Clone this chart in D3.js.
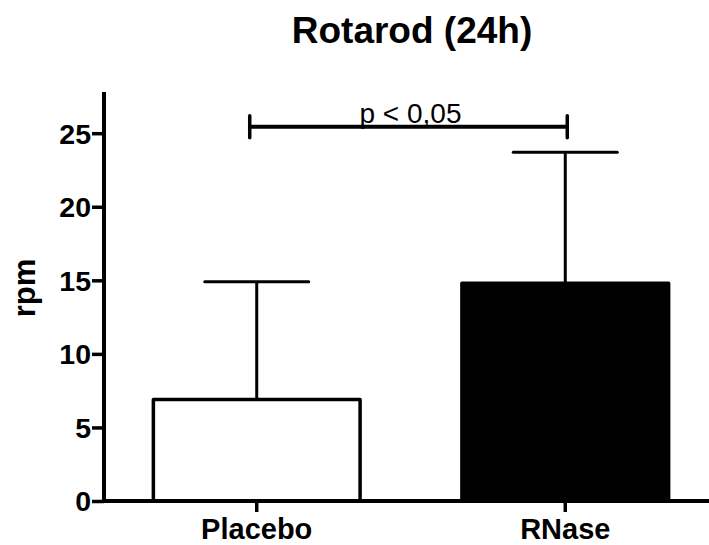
<!DOCTYPE html>
<html>
<head>
<meta charset="utf-8">
<script src="https://cdn.jsdelivr.net/npm/d3@7"></script>
<style>
  html, body { margin: 0; padding: 0; background: #fff; }
  svg { display: block; }
  text { font-family: "Liberation Sans", Arial, sans-serif; fill: #000; }
</style>
</head>
<body>
<svg id="chart" width="709" height="545"></svg>
<script>
const categories = ["Placebo", "RNase"];
const means = [6.9, 14.8];
const errors = [8.0, 8.9];
const fills = ["#ffffff", "#000000"];
const yTicks = [0, 5, 10, 15, 20, 25];
const title = "Rotarod (24h)";
const yLabel = "rpm";
const sigLabel = "p < 0,05";
const sigValue = 25.43;

const svg = d3.select("#chart");
const W = 709, H = 545;

const x = d3.scaleBand().domain(categories).range([104, 718]).paddingInner(0.33).paddingOuter(0.16);
const y = d3.scaleLinear().domain([0, 27.8]).range([501, 92]);

// bars
svg.selectAll("rect.bar").data(categories).enter().append("rect")
  .attr("class", "bar")
  .attr("x", d => x(d))
  .attr("width", x.bandwidth())
  .attr("y", (d, i) => y(means[i]))
  .attr("height", (d, i) => y(0) - y(means[i]))
  .attr("fill", (d, i) => fills[i])
  .attr("stroke", "#000")
  .attr("stroke-width", 3.5)
  .attr("stroke-linejoin", "round");

// error bars (upper only)
const capHalf = 52;
categories.forEach((c, i) => {
  const cx = x(c) + x.bandwidth() / 2;
  svg.append("line")
    .attr("x1", cx).attr("x2", cx)
    .attr("y1", y(means[i])).attr("y2", y(means[i] + errors[i]))
    .attr("stroke", "#000").attr("stroke-width", 3);
  svg.append("line")
    .attr("x1", cx - capHalf).attr("x2", cx + capHalf)
    .attr("y1", y(means[i] + errors[i])).attr("y2", y(means[i] + errors[i]))
    .attr("stroke", "#000").attr("stroke-width", 3).attr("stroke-linecap", "round");
});

// y axis
const yAxis = d3.axisLeft(y).tickValues(yTicks).tickSize(12).tickPadding(1).tickFormat(d3.format("d"));
const gy = svg.append("g").attr("transform", "translate(104,0)").call(yAxis);
gy.select(".domain").remove();
gy.selectAll(".tick line").attr("stroke", "#000").attr("stroke-width", 3.5);
gy.selectAll(".tick text").attr("font-size", 28.5).attr("font-weight", "bold").attr("fill", "#000").attr("dy", "0.35em");
svg.append("line").attr("x1", 104).attr("x2", 104).attr("y1", y.range()[1]).attr("y2", y(0) + 2)
  .attr("stroke", "#000").attr("stroke-width", 4);

// x axis
const xAxis = d3.axisBottom(x).tickSize(11).tickPadding(6);
const gx = svg.append("g").attr("transform", `translate(0,${y(0)})`).call(xAxis);
gx.select(".domain").remove();
gx.selectAll(".tick line").attr("stroke", "#000").attr("stroke-width", 3.5);
gx.selectAll(".tick text").attr("font-size", 29).attr("font-weight", "bold").attr("fill", "#000");
svg.append("line").attr("x1", 102).attr("x2", W).attr("y1", y(0)).attr("y2", y(0))
  .attr("stroke", "#000").attr("stroke-width", 4);

// significance bracket
const sx1 = x(categories[0]) + x.bandwidth() / 2 - 7;
const sx2 = x(categories[1]) + x.bandwidth() / 2 + 2;
const sy = y(sigValue);
svg.append("line").attr("x1", sx1).attr("x2", sx2).attr("y1", sy).attr("y2", sy)
  .attr("stroke", "#000").attr("stroke-width", 4);
[sx1, sx2].forEach(sx => {
  svg.append("line").attr("x1", sx).attr("x2", sx).attr("y1", sy - 11).attr("y2", sy + 11)
    .attr("stroke", "#000").attr("stroke-width", 3.5).attr("stroke-linecap", "round");
});
svg.append("text").attr("x", (sx1 + sx2) / 2 + 2).attr("y", sy - 4)
  .attr("text-anchor", "middle").attr("font-size", 28).text(sigLabel);

// title
svg.append("text").attr("x", 412).attr("y", 43).attr("text-anchor", "middle")
  .attr("font-size", 37).attr("font-weight", "bold").text(title);

// y label
svg.append("text").attr("transform", "translate(35,288) rotate(-90)")
  .attr("text-anchor", "middle").attr("font-size", 31).attr("font-weight", "bold").text(yLabel);
</script>
</body>
</html>
